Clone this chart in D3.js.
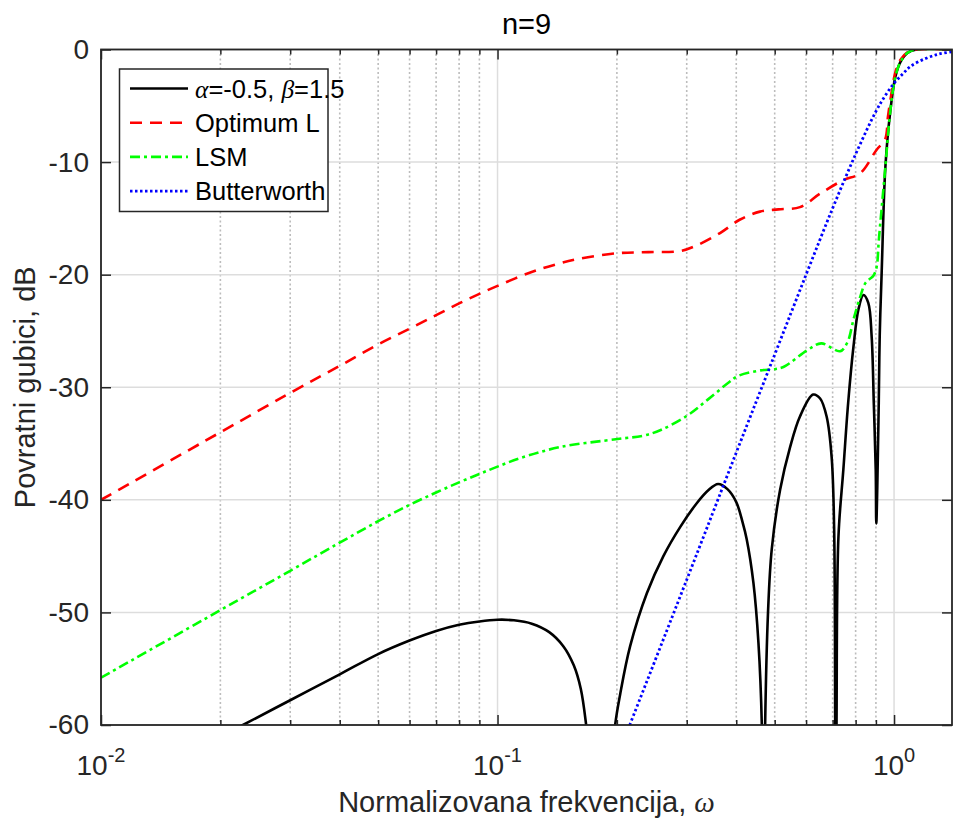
<!DOCTYPE html>
<html>
<head>
<meta charset="utf-8">
<script src="https://cdn.jsdelivr.net/npm/d3@7"></script>
<style>
  html, body { margin: 0; padding: 0; background: #fff; }
  svg { display: block; font-family: 'Liberation Sans', Arial, sans-serif; }
</style>
</head>
<body>
<div id="chart"></div>
<script>
// values: [omega, dB]
const alphaBeta = [
  [0.02, -61.1], [0.0228, -60], [0.03, -57.8], [0.04, -55.5], [0.05, -53.7], [0.06, -52.5],
  [0.07, -51.65], [0.08, -51.1], [0.09, -50.8], [0.1, -50.65], [0.11, -50.7], [0.122, -51.0],
  [0.135, -51.75], [0.1465, -53.0], [0.1557, -54.7], [0.1622, -56.8], [0.1673, -60], [0.176, -68],
  [0.183, -85], [0.19, -68], [0.198, -60], [0.204, -57.2], [0.216, -53.0], [0.238, -48.3],
  [0.262, -45.0], [0.289, -42.4], [0.318, -40.3], [0.34, -39.15], [0.36, -38.6], [0.38, -39.05],
  [0.4, -40.2], [0.415, -42.0], [0.425, -43.5], [0.442, -47.4], [0.455, -52.7], [0.464, -60],
  [0.468, -80], [0.473, -60], [0.481, -50], [0.4915, -44.4], [0.516, -39.1], [0.547, -35.3],
  [0.579, -32.6], [0.625, -30.65], [0.651, -31.0], [0.676, -32.6], [0.696, -36.2], [0.706, -42.4],
  [0.7105, -60], [0.713, -80], [0.716, -60], [0.724, -43.3], [0.745, -37.3], [0.766, -31.4],
  [0.79, -26.4], [0.813, -23.1], [0.837, -21.8], [0.861, -22.5], [0.878, -25.5], [0.889, -31.4],
  [0.899, -37.3], [0.902, -42.1], [0.915, -31.4], [0.92, -25.5], [0.931, -19.6], [0.951, -10.4],
  [0.979, -5.4], [1.008, -2.4], [1.038, -1.1], [1.081, -0.3], [1.14, 0], [1.4, 0]
];
const optimumL = [
  [0.01, -40.0], [0.02, -34.0], [0.03, -30.5], [0.04, -28.1], [0.05, -26.2], [0.06, -24.8],
  [0.07, -23.6], [0.08, -22.55], [0.09, -21.7], [0.1, -21.0], [0.12, -19.85], [0.14, -19.1],
  [0.16, -18.6], [0.2, -18.1], [0.24, -18.0], [0.289, -17.9], [0.318, -17.4], [0.364, -16.3],
  [0.409, -15.1], [0.459, -14.4], [0.511, -14.2], [0.579, -14.0], [0.651, -12.8], [0.745, -11.6],
  [0.821, -11.0], [0.904, -8.9], [0.949, -8.0], [0.965, -6.0], [0.979, -4.5], [1.008, -2.0],
  [1.038, -0.9], [1.081, -0.25], [1.14, 0], [1.4, 0]
];
const lsm = [
  [0.01, -55.8], [0.02, -49.8], [0.03, -46.3], [0.04, -43.8], [0.05, -41.9], [0.06, -40.45],
  [0.07, -39.35], [0.08, -38.45], [0.09, -37.7], [0.1, -37.05], [0.114, -36.3], [0.1443, -35.3],
  [0.201, -34.6], [0.233, -34.3], [0.258, -33.8], [0.3015, -32.5], [0.339, -31.1], [0.382, -29.6],
  [0.404, -29.0], [0.461, -28.5], [0.497, -28.4], [0.526, -28.2], [0.605, -26.7], [0.655, -26.1],
  [0.731, -26.8], [0.763, -26.0], [0.79, -24.0], [0.821, -22.0], [0.845, -20.8], [0.867, -20.4],
  [0.887, -20.1], [0.904, -19.3], [0.915, -17.0], [0.931, -14.0], [0.951, -10.4], [0.979, -5.4],
  [1.008, -2.4], [1.038, -1.1], [1.081, -0.3], [1.14, 0], [1.4, 0]
];
const butterworth = [
  [0.2, -62.9], [0.3, -47.1], [0.4, -35.8], [0.5, -27.1], [0.6, -20.0], [0.7, -14.1], [0.8, -9.3],
  [0.9, -5.5], [0.95, -4.1], [1.0, -3.0], [1.05, -2.2], [1.1, -1.5], [1.2, -0.8], [1.3, -0.4], [1.4, -0.2]
];

const xMajor = [0.01, 0.1, 1];
const xExponents = ['-2', '-1', '0'];
const yTicks = [-60, -50, -40, -30, -20, -10, 0];

const width = 953;
const height = 821;
const margin = { top: 49.5, right: 1, bottom: 96, left: 101 };

const svg = d3
  .select('#chart')
  .append('svg')
  .attr('width', width)
  .attr('height', height);

const x = d3.scaleLog().domain([0.01, 1.4]).range([margin.left, width - margin.right]);
const y = d3.scaleLinear().domain([-60, 0]).range([height - margin.bottom, margin.top]);

const x0 = x.range()[0], x1 = x.range()[1];
const y0 = y.range()[1], y1 = y.range()[0];

svg.append('defs').append('clipPath').attr('id', 'plot-clip')
  .append('rect').attr('x', x0).attr('y', y0).attr('width', x1 - x0).attr('height', y1 - y0);

// grid
const xMinor = x.ticks().filter((d) => !xMajor.some((m) => Math.abs(m - d) < 1e-9));
const grid = svg.append('g');
grid.selectAll('.minor').data(xMinor).enter().append('line')
  .attr('x1', (d) => x(d)).attr('x2', (d) => x(d))
  .attr('y1', y0).attr('y2', y1)
  .attr('stroke', '#bcbcbc').attr('stroke-width', 1.6).attr('stroke-dasharray', '2 2.5');
grid.selectAll('.majorx').data(xMajor).enter().append('line')
  .attr('x1', (d) => x(d)).attr('x2', (d) => x(d))
  .attr('y1', y0).attr('y2', y1)
  .attr('stroke', '#dddddd').attr('stroke-width', 1.5);
grid.selectAll('.majory').data(yTicks).enter().append('line')
  .attr('x1', x0).attr('x2', x1)
  .attr('y1', (d) => y(d)).attr('y2', (d) => y(d))
  .attr('stroke', '#dddddd').attr('stroke-width', 1.5);

// curves
const line = d3.line()
  .x((d) => x(d[0]))
  .y((d) => y(d[1]))
  .curve(d3.curveCatmullRom.alpha(0.5));

const series = [
  { data: alphaBeta, color: '#000000', dash: null, width: 2.6 },
  { data: optimumL, color: '#ff0000', dash: '12 8', width: 2.6 },
  { data: lsm, color: '#00ff00', dash: '10 4 3 4', width: 2.6 },
  { data: butterworth, color: '#0000ff', dash: '2.5 2.5', width: 2.8 }
];

const curves = svg.append('g').attr('clip-path', 'url(#plot-clip)');
series.forEach((s) => {
  curves.append('path')
    .datum(s.data)
    .attr('fill', 'none')
    .attr('stroke', s.color)
    .attr('stroke-width', s.width)
    .attr('stroke-dasharray', s.dash)
    .attr('stroke-linejoin', 'round')
    .attr('d', line);
});

// axes
const axisColor = '#262626';
function styleAxis(g) {
  g.select('.domain').remove();
  g.selectAll('.tick line').attr('stroke', axisColor).attr('stroke-width', 1.5);
  g.selectAll('.tick text').attr('fill', axisColor).style('font-size', '28px');
}

svg.append('g').attr('transform', `translate(0,${y1})`)
  .call(d3.axisBottom(x).tickValues(xMajor).tickSize(-10).tickFormat(''))
  .call(styleAxis);
svg.append('g').attr('transform', `translate(0,${y1})`)
  .call(d3.axisBottom(x).tickValues(xMinor).tickSize(-5).tickFormat(''))
  .call(styleAxis);
svg.append('g').attr('transform', `translate(0,${y0})`)
  .call(d3.axisTop(x).tickValues(xMajor).tickSize(-10).tickFormat(''))
  .call(styleAxis);
svg.append('g').attr('transform', `translate(0,${y0})`)
  .call(d3.axisTop(x).tickValues(xMinor).tickSize(-5).tickFormat(''))
  .call(styleAxis);
svg.append('g').attr('transform', `translate(${x0},0)`)
  .call(d3.axisLeft(y).tickValues(yTicks).tickSize(-10).tickPadding(12).tickFormat((d) => String(d)))
  .call(styleAxis);
svg.append('g').attr('transform', `translate(${x1},0)`)
  .call(d3.axisRight(y).tickValues(yTicks).tickSize(-10).tickFormat(''))
  .call(styleAxis);

svg.append('rect')
  .attr('x', x0).attr('y', y0).attr('width', x1 - x0).attr('height', y1 - y0)
  .attr('fill', 'none').attr('stroke', axisColor).attr('stroke-width', 1.8);

// x tick labels 10^n
const xLabels = svg.append('g');
xMajor.forEach((d, i) => {
  const t = xLabels.append('text')
    .attr('x', x(d)).attr('y', 775)
    .attr('text-anchor', 'middle')
    .attr('fill', axisColor)
    .style('font-size', '28px');
  t.append('tspan').text('10');
  t.append('tspan').attr('dy', -13).style('font-size', '20px').text(xExponents[i]);
});

// titles
svg.append('text')
  .attr('x', (x0 + x1) / 2).attr('y', 34)
  .attr('text-anchor', 'middle')
  .attr('fill', '#000')
  .style('font-size', '29px')
  .text('n=9');

const xTitle = svg.append('text')
  .attr('x', (x0 + x1) / 2).attr('y', 812)
  .attr('text-anchor', 'middle')
  .attr('fill', axisColor)
  .style('font-size', '29px');
xTitle.append('tspan').text('Normalizovana frekvencija, ');
xTitle.append('tspan').style('font-family', "'Liberation Serif', serif").style('font-style', 'italic').text('ω');

svg.append('text')
  .attr('transform', `translate(35,${(y0 + y1) / 2}) rotate(-90)`)
  .attr('text-anchor', 'middle')
  .attr('fill', axisColor)
  .style('font-size', '29px')
  .text('Povratni gubici, dB');

// legend
const legend = svg.append('g');
legend.append('rect')
  .attr('x', 119.5).attr('y', 69).attr('width', 208.5).attr('height', 142.5)
  .attr('fill', '#fff').attr('stroke', axisColor).attr('stroke-width', 1.5);

const legendNames = [
  [{ t: 'α', it: true }, { t: '=-0.5, ' }, { t: 'β', it: true }, { t: '=1.5' }],
  [{ t: 'Optimum L' }],
  [{ t: 'LSM' }],
  [{ t: 'Butterworth' }]
];

series.forEach((s, i) => {
  const ly = 88.5 + i * 34.2;
  legend.append('line')
    .attr('x1', 130).attr('x2', 188).attr('y1', ly).attr('y2', ly)
    .attr('stroke', s.color).attr('stroke-width', s.width)
    .attr('stroke-dasharray', s.dash);
  const t = legend.append('text')
    .attr('x', 195).attr('y', ly + 9)
    .attr('fill', '#000')
    .style('font-size', '25.5px');
  legendNames[i].forEach((p) => {
    const span = t.append('tspan').text(p.t);
    if (p.it) span.style('font-family', "'Liberation Serif', serif").style('font-style', 'italic');
  });
});
</script>
</body>
</html>
